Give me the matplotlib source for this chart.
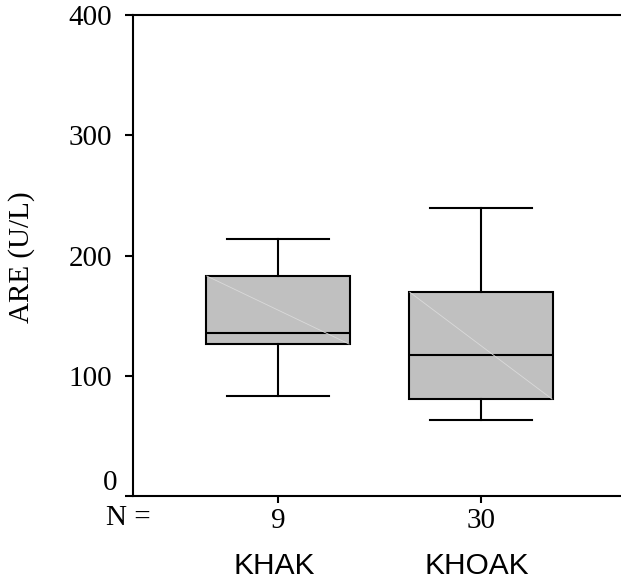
import matplotlib
matplotlib.use("Agg")
import matplotlib.pyplot as plt
import matplotlib.transforms as mtransforms

categories = ["KHAK", "KHOAK"]
n_counts = [9, 30]
whisker_low = [83.4, 63.2]
q1 = [126.5, 80.7]
median = [135.9, 117.0]
q3 = [183.0, 169.5]
whisker_high = [213.8, 239.3]
yticks = [0, 100, 200, 300, 400]

serif = ["Liberation Serif", "DejaVu Serif"]
sans = ["Liberation Sans", "DejaVu Sans"]

fig = plt.figure(figsize=(6.21, 5.85), dpi=100)
ax = fig.add_axes([133/621, 1-496/585, 1-133/621, (496-15.3)/585])

positions = [1, 2]
stats = []
for i in range(len(categories)):
    stats.append(dict(whislo=whisker_low[i], q1=q1[i], med=median[i],
                      q3=q3[i], whishi=whisker_high[i], fliers=[]))

lw = 1.5
ax.bxp(stats, positions=positions, widths=0.71, patch_artist=True,
       showfliers=False,
       boxprops=dict(facecolor="#c0c0c0", edgecolor="black", linewidth=lw),
       medianprops=dict(color="black", linewidth=lw),
       whiskerprops=dict(color="black", linewidth=lw),
       capprops=dict(color="black", linewidth=lw),
       capwidths=0.5)

# faint diagonal artifact inside boxes
for i, p in enumerate(positions):
    ax.plot([p - 0.35, p + 0.35], [q3[i], q1[i]], color="#dadada",
            linewidth=0.6, zorder=3)

ax.set_xlim(0.286, 2.69)
ax.set_ylim(0, 400)
ax.set_yticks(yticks)
ax.set_yticklabels([str(v) for v in yticks], fontfamily=serif, fontsize=21)
ax.set_xticks(positions)
ax.set_xticklabels([str(n) for n in n_counts], fontfamily=serif, fontsize=21)
ax.tick_params(axis="y", direction="out", length=6, width=1.5, pad=9)
ax.tick_params(axis="x", direction="out", length=5, width=1.5, pad=4)

for s in ["left", "bottom", "top"]:
    ax.spines[s].set_linewidth(1.5)
ax.spines["right"].set_visible(False)

# lift the "0" label above the x axis, as in the reference
lab0 = ax.yaxis.get_major_ticks()[0].label1
lab0.set_transform(lab0.get_transform() +
                   mtransforms.ScaledTranslation(5/100, 16/100, fig.dpi_scale_trans))

fig.text(22/621, 1-257/585, "ARE (U/L)", rotation=90, ha="center", va="center",
         fontfamily=serif, fontsize=21)

trans = mtransforms.blended_transform_factory(ax.transData, fig.transFigure)
for p, c in zip(positions, categories):
    ax.text(p - 0.02, 1-566/585, c, transform=trans, ha="center", va="center",
            fontfamily=sans, fontsize=21.5)
fig.text(128/621, 1-518/585, "N =", ha="center", va="center",
         fontfamily=serif, fontsize=21)

fig.savefig("out.png", dpi=100)
